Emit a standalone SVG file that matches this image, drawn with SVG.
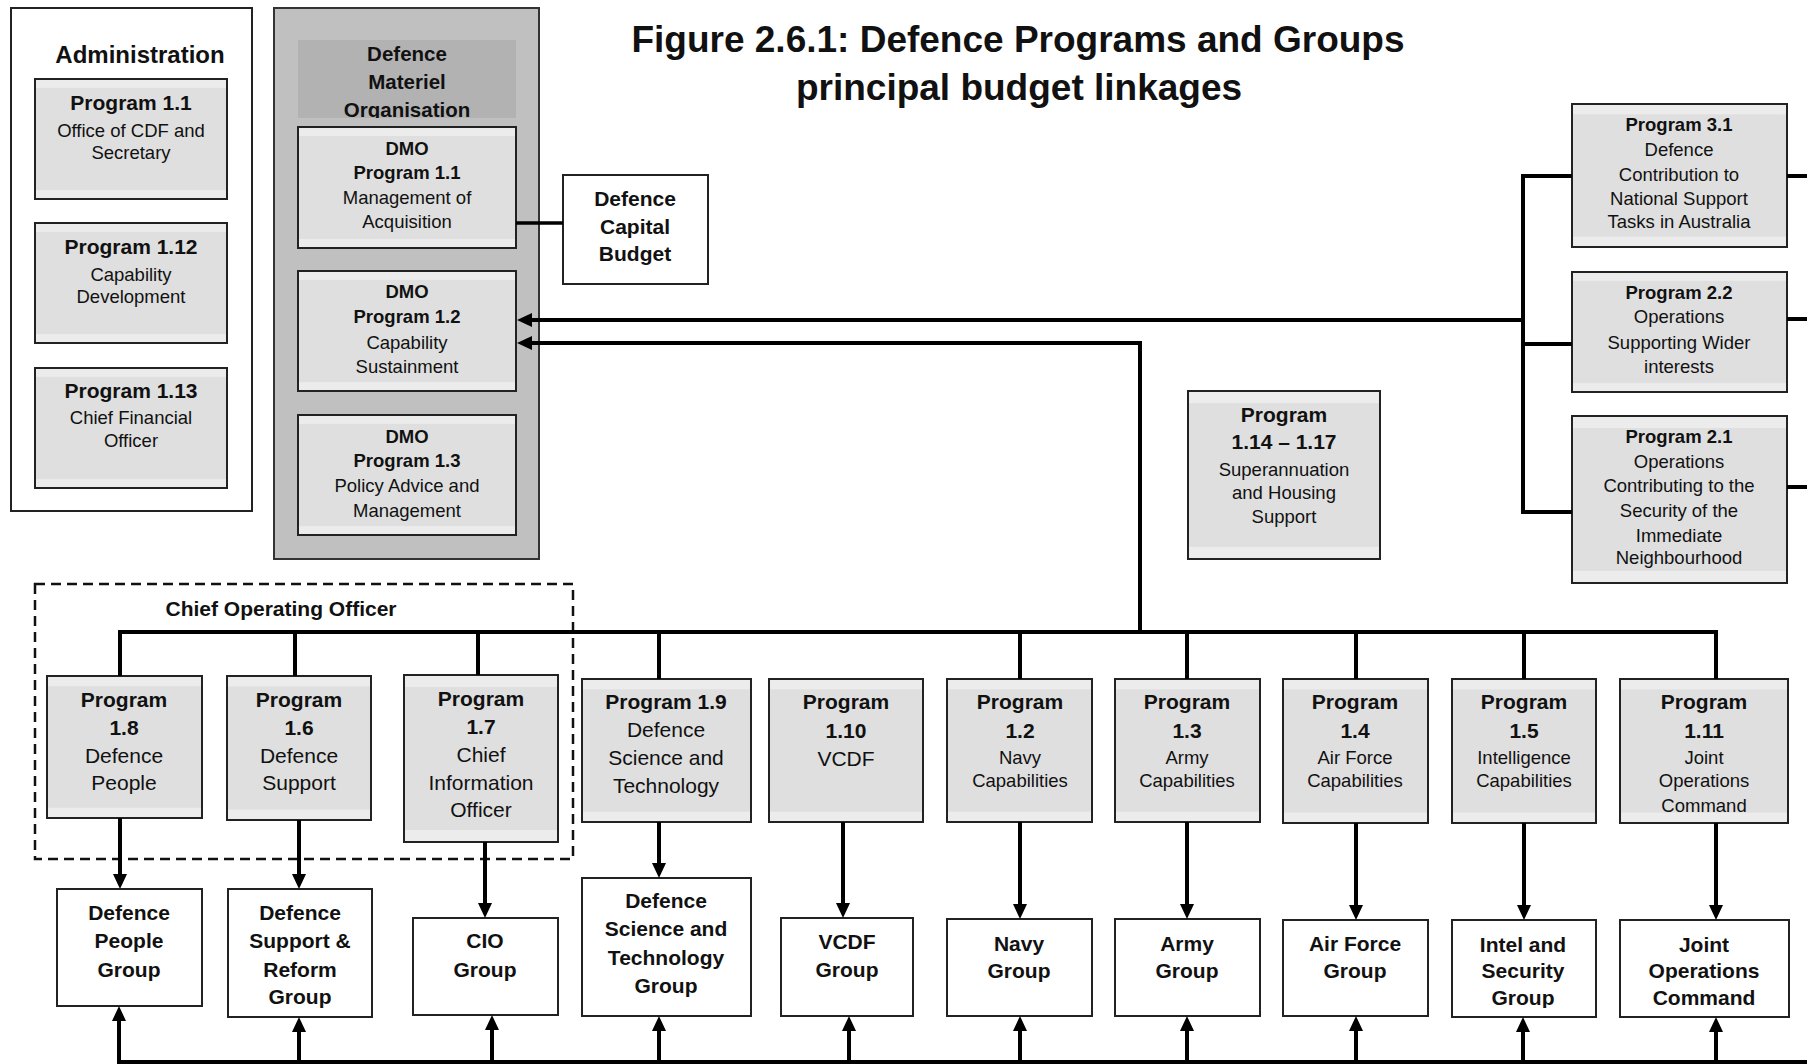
<svg xmlns="http://www.w3.org/2000/svg" width="1807" height="1064" viewBox="0 0 1807 1064">
  <style>
    text { font-family: "Liberation Sans", Arial, sans-serif; fill: #111; text-anchor: middle; }
    .title { font-size: 37px; font-weight: bold; }
    .h24 { font-size: 24px; font-weight: bold; }
    .b21 { font-size: 21px; font-weight: bold; }
    .b20 { font-size: 20.5px; font-weight: bold; }
    .b18 { font-size: 18.5px; font-weight: bold; }
    .r21 { font-size: 21px; }
    .r18 { font-size: 18.5px; }
    .frame { fill: #fff; stroke: #222; stroke-width: 2; }
    .prog { fill: url(#progFill); stroke: #222; stroke-width: 2; }
    .dmo { fill: #c0c0c0; stroke: #333; stroke-width: 2; }
    .band { fill: #b2b2b2; }
    .group { fill: #fff; stroke: #222; stroke-width: 2; }
    .coo { fill: none; stroke: #111; stroke-width: 2.5; stroke-dasharray: 10 6; }
    .wire { fill: none; stroke: #000; stroke-width: 4; stroke-linejoin: miter; }
    .thin { fill: none; stroke: #000; stroke-width: 3.5; }
    .arrow { fill: none; stroke: #000; stroke-width: 4; marker-end: url(#head); }
  </style>
  <defs>
    <linearGradient id="progFill" x1="0" y1="0" x2="0" y2="1">
      <stop offset="0" stop-color="#ececec"/>
      <stop offset="0.07" stop-color="#ececec"/>
      <stop offset="0.075" stop-color="#dfdfdf"/>
      <stop offset="0.925" stop-color="#dfdfdf"/>
      <stop offset="0.93" stop-color="#ececec"/>
      <stop offset="1" stop-color="#ececec"/>
    </linearGradient>
    <marker id="head" viewBox="0 0 15 14" refX="3" refY="7" markerWidth="15" markerHeight="14" markerUnits="userSpaceOnUse" orient="auto">
      <path d="M0,0 L15,7 L0,14 z" fill="#000"/>
    </marker>
    <clipPath id="bandClip"><rect x="298" y="40" width="218" height="78"/></clipPath>
    <clipPath id="lowClip"><rect x="0" y="0" width="1807" height="1008"/></clipPath>
  </defs>

  <rect x="0" y="0" width="1807" height="1064" fill="#fff"/>

  <!-- heading -->
  <g id="heading">
    <text class="title" x="1018" y="52">Figure 2.6.1: Defence Programs and Groups</text>
    <text class="title" x="1019" y="100">principal budget linkages</text>
  </g>

  <!-- Administration -->
  <g id="administration">
    <rect class="frame" x="11" y="8" width="241" height="503"/>
    <text class="h24" x="140" y="63">Administration</text>
  </g>
  <g id="admin-1-1">
    <rect class="prog" x="35" y="79" width="192" height="120"/>
    <text class="b21" x="131" y="110">Program 1.1</text>
    <text class="r18" x="131" y="137">Office of CDF and</text>
    <text class="r18" x="131" y="159">Secretary</text>
  </g>
  <g id="admin-1-12">
    <rect class="prog" x="35" y="223" width="192" height="120"/>
    <text class="b21" x="131" y="254">Program 1.12</text>
    <text class="r18" x="131" y="281">Capability</text>
    <text class="r18" x="131" y="303">Development</text>
  </g>
  <g id="admin-1-13">
    <rect class="prog" x="35" y="368" width="192" height="120"/>
    <text class="b21" x="131" y="398">Program 1.13</text>
    <text class="r18" x="131" y="424">Chief Financial</text>
    <text class="r18" x="131" y="447">Officer</text>
  </g>

  <!-- Defence Materiel Organisation -->
  <g id="dmo">
    <rect class="dmo" x="274" y="8" width="265" height="551"/>
    <rect class="band" x="298" y="40" width="218" height="78"/>
    <g clip-path="url(#bandClip)">
      <text class="b20" x="407" y="61">Defence</text>
      <text class="b20" x="407" y="89">Materiel</text>
      <text class="b20" x="407" y="117">Organisation</text>
    </g>
  </g>
  <g id="dmo-1-1">
    <rect class="prog" x="298" y="127" width="218" height="121"/>
    <text class="b18" x="407" y="155">DMO</text>
    <text class="b18" x="407" y="179">Program 1.1</text>
    <text class="r18" x="407" y="204">Management of</text>
    <text class="r18" x="407" y="228">Acquisition</text>
  </g>
  <g id="dmo-1-2">
    <rect class="prog" x="298" y="271" width="218" height="120"/>
    <text class="b18" x="407" y="298">DMO</text>
    <text class="b18" x="407" y="323">Program 1.2</text>
    <text class="r18" x="407" y="349">Capability</text>
    <text class="r18" x="407" y="373">Sustainment</text>
  </g>
  <g id="dmo-1-3">
    <rect class="prog" x="298" y="415" width="218" height="120"/>
    <text class="b18" x="407" y="443">DMO</text>
    <text class="b18" x="407" y="467">Program 1.3</text>
    <text class="r18" x="407" y="492">Policy Advice and</text>
    <text class="r18" x="407" y="517">Management</text>
  </g>

  <g id="capital-budget">
    <rect class="group" x="563" y="175" width="145" height="109"/>
    <text class="b21" x="635" y="206">Defence</text>
    <text class="b21" x="635" y="234">Capital</text>
    <text class="b21" x="635" y="261">Budget</text>
  </g>

  <g id="program-1-14-1-17">
    <rect class="prog" x="1188" y="391" width="192" height="168"/>
    <text class="b21" x="1284" y="422">Program</text>
    <text class="b21" x="1284" y="449">1.14 – 1.17</text>
    <text class="r18" x="1284" y="476">Superannuation</text>
    <text class="r18" x="1284" y="499">and Housing</text>
    <text class="r18" x="1284" y="523">Support</text>
  </g>

  <!-- Outcome 2 and 3 programs -->
  <g id="program-3-1">
    <rect class="prog" x="1572" y="104" width="215" height="143"/>
    <text class="b18" x="1679" y="131">Program 3.1</text>
    <text class="r18" x="1679" y="156">Defence</text>
    <text class="r18" x="1679" y="181">Contribution to</text>
    <text class="r18" x="1679" y="205">National Support</text>
    <text class="r18" x="1679" y="228">Tasks in Australia</text>
  </g>
  <g id="program-2-2">
    <rect class="prog" x="1572" y="272" width="215" height="120"/>
    <text class="b18" x="1679" y="299">Program 2.2</text>
    <text class="r18" x="1679" y="323">Operations</text>
    <text class="r18" x="1679" y="349">Supporting Wider</text>
    <text class="r18" x="1679" y="373">interests</text>
  </g>
  <g id="program-2-1">
    <rect class="prog" x="1572" y="416" width="215" height="167"/>
    <text class="b18" x="1679" y="443">Program 2.1</text>
    <text class="r18" x="1679" y="468">Operations</text>
    <text class="r18" x="1679" y="492">Contributing to the</text>
    <text class="r18" x="1679" y="517">Security of the</text>
    <text class="r18" x="1679" y="542">Immediate</text>
    <text class="r18" x="1679" y="564">Neighbourhood</text>
  </g>

  <!-- Chief Operating Officer grouping -->
  <g id="coo">
    <rect class="coo" x="35" y="584" width="538" height="275"/>
    <text class="b21" x="281" y="616">Chief Operating Officer</text>
  </g>

  <!-- Outcome 1 programs -->
  <g id="program-1-8">
    <rect class="prog" x="47" y="676" width="155" height="142"/>
    <text class="b21" x="124" y="707">Program</text>
    <text class="b21" x="124" y="735">1.8</text>
    <text class="r21" x="124" y="763">Defence</text>
    <text class="r21" x="124" y="790">People</text>
  </g>
  <g id="program-1-6">
    <rect class="prog" x="227" y="676" width="144" height="144"/>
    <text class="b21" x="299" y="707">Program</text>
    <text class="b21" x="299" y="735">1.6</text>
    <text class="r21" x="299" y="763">Defence</text>
    <text class="r21" x="299" y="790">Support</text>
  </g>
  <g id="program-1-7">
    <rect class="prog" x="404" y="675" width="154" height="167"/>
    <text class="b21" x="481" y="706">Program</text>
    <text class="b21" x="481" y="734">1.7</text>
    <text class="r21" x="481" y="762">Chief</text>
    <text class="r21" x="481" y="790">Information</text>
    <text class="r21" x="481" y="817">Officer</text>
  </g>
  <g id="program-1-9">
    <rect class="prog" x="582" y="679" width="169" height="143"/>
    <text class="b21" x="666" y="709">Program 1.9</text>
    <text class="r21" x="666" y="737">Defence</text>
    <text class="r21" x="666" y="765">Science and</text>
    <text class="r21" x="666" y="793">Technology</text>
  </g>
  <g id="program-1-10">
    <rect class="prog" x="769" y="679" width="154" height="143"/>
    <text class="b21" x="846" y="709">Program</text>
    <text class="b21" x="846" y="738">1.10</text>
    <text class="r21" x="846" y="766">VCDF</text>
  </g>
  <g id="program-1-2">
    <rect class="prog" x="947" y="679" width="145" height="143"/>
    <text class="b21" x="1020" y="709">Program</text>
    <text class="b21" x="1020" y="738">1.2</text>
    <text class="r18" x="1020" y="764">Navy</text>
    <text class="r18" x="1020" y="787">Capabilities</text>
  </g>
  <g id="program-1-3">
    <rect class="prog" x="1115" y="679" width="145" height="143"/>
    <text class="b21" x="1187" y="709">Program</text>
    <text class="b21" x="1187" y="738">1.3</text>
    <text class="r18" x="1187" y="764">Army</text>
    <text class="r18" x="1187" y="787">Capabilities</text>
  </g>
  <g id="program-1-4">
    <rect class="prog" x="1283" y="679" width="145" height="144"/>
    <text class="b21" x="1355" y="709">Program</text>
    <text class="b21" x="1355" y="738">1.4</text>
    <text class="r18" x="1355" y="764">Air Force</text>
    <text class="r18" x="1355" y="787">Capabilities</text>
  </g>
  <g id="program-1-5">
    <rect class="prog" x="1452" y="679" width="144" height="144"/>
    <text class="b21" x="1524" y="709">Program</text>
    <text class="b21" x="1524" y="738">1.5</text>
    <text class="r18" x="1524" y="764">Intelligence</text>
    <text class="r18" x="1524" y="787">Capabilities</text>
  </g>
  <g id="program-1-11">
    <rect class="prog" x="1620" y="679" width="168" height="144"/>
    <text class="b21" x="1704" y="709">Program</text>
    <text class="b21" x="1704" y="738">1.11</text>
    <text class="r18" x="1704" y="764">Joint</text>
    <text class="r18" x="1704" y="787">Operations</text>
    <text class="r18" x="1704" y="812">Command</text>
  </g>

  <!-- Groups -->
  <g id="defence-people-group">
    <rect class="group" x="57" y="889" width="145" height="117"/>
    <text class="b21" x="129" y="920">Defence</text>
    <text class="b21" x="129" y="948">People</text>
    <text class="b21" x="129" y="977">Group</text>
  </g>
  <g id="defence-support-reform-group">
    <rect class="group" x="228" y="889" width="144" height="128"/>
    <text class="b21" x="300" y="920">Defence</text>
    <text class="b21" x="300" y="948">Support &amp;</text>
    <text class="b21" x="300" y="977">Reform</text>
    <text class="b21" x="300" y="1004">Group</text>
  </g>
  <g id="cio-group">
    <rect class="group" x="413" y="918" width="145" height="97"/>
    <text class="b21" x="485" y="948">CIO</text>
    <text class="b21" x="485" y="977">Group</text>
  </g>
  <g id="dst-group">
    <rect class="group" x="582" y="878" width="169" height="138"/>
    <text class="b21" x="666" y="908">Defence</text>
    <text class="b21" x="666" y="936">Science and</text>
    <text class="b21" x="666" y="965">Technology</text>
    <text class="b21" x="666" y="993">Group</text>
  </g>
  <g id="vcdf-group">
    <rect class="group" x="781" y="918" width="132" height="98"/>
    <text class="b21" x="847" y="949">VCDF</text>
    <text class="b21" x="847" y="977">Group</text>
  </g>
  <g id="navy-group">
    <rect class="group" x="947" y="919" width="145" height="97"/>
    <text class="b21" x="1019" y="951">Navy</text>
    <text class="b21" x="1019" y="978">Group</text>
  </g>
  <g id="army-group">
    <rect class="group" x="1115" y="919" width="145" height="97"/>
    <text class="b21" x="1187" y="951">Army</text>
    <text class="b21" x="1187" y="978">Group</text>
  </g>
  <g id="air-force-group">
    <rect class="group" x="1283" y="920" width="145" height="96"/>
    <text class="b21" x="1355" y="951">Air Force</text>
    <text class="b21" x="1355" y="978">Group</text>
  </g>
  <g id="intel-security-group">
    <rect class="group" x="1452" y="920" width="144" height="97"/>
    <g clip-path="url(#lowClip)">
      <text class="b21" x="1523" y="952">Intel and</text>
      <text class="b21" x="1523" y="978">Security</text>
      <text class="b21" x="1523" y="1005">Group</text>
    </g>
  </g>
  <g id="joint-operations-command">
    <rect class="group" x="1620" y="920" width="169" height="97"/>
    <g clip-path="url(#lowClip)">
      <text class="b21" x="1704" y="952">Joint</text>
      <text class="b21" x="1704" y="978">Operations</text>
      <text class="b21" x="1704" y="1005">Command</text>
    </g>
  </g>

  <!-- connectors, drawn over the containers they cross -->
  <g id="connectors">
    <line class="thin" x1="516" y1="223" x2="563" y2="223"/>
    <path class="arrow" d="M1525,320 H529"/>
    <path class="arrow" d="M1140,634 V343 H529"/>
    <!-- right-hand trunk to Programs 3.1, 2.2, 2.1 -->
    <path class="wire" d="M1572,176 H1523 V512 H1572"/>
    <line class="wire" x1="1523" y1="344" x2="1572" y2="344"/>
    <line class="wire" x1="1787" y1="176" x2="1807" y2="176"/>
    <line class="wire" x1="1787" y1="319" x2="1807" y2="319"/>
    <line class="wire" x1="1787" y1="487" x2="1807" y2="487"/>
    <!-- upper bus and drops to programs -->
    <path class="wire" d="M120,676 V632 H1716 V679"/>
    <line class="wire" x1="295" y1="632" x2="295" y2="676"/>
    <line class="wire" x1="478" y1="632" x2="478" y2="675"/>
    <line class="wire" x1="659" y1="632" x2="659" y2="679"/>
    <line class="wire" x1="1020" y1="632" x2="1020" y2="679"/>
    <line class="wire" x1="1187" y1="632" x2="1187" y2="679"/>
    <line class="wire" x1="1356" y1="632" x2="1356" y2="679"/>
    <line class="wire" x1="1524" y1="632" x2="1524" y2="679"/>
    <!-- programs down to groups -->
    <path class="arrow" d="M120,818 V877"/>
    <path class="arrow" d="M299,820 V877"/>
    <path class="arrow" d="M485,842 V906"/>
    <path class="arrow" d="M659,822 V866"/>
    <path class="arrow" d="M843,822 V906"/>
    <path class="arrow" d="M1020,822 V907"/>
    <path class="arrow" d="M1187,822 V907"/>
    <path class="arrow" d="M1356,823 V908"/>
    <path class="arrow" d="M1524,823 V908"/>
    <path class="arrow" d="M1716,823 V908"/>
    <!-- lower bus and feeds up into groups -->
    <line class="wire" x1="117" y1="1062" x2="1807" y2="1062"/>
    <path class="arrow" d="M119,1062 V1018"/>
    <path class="arrow" d="M299,1062 V1029"/>
    <path class="arrow" d="M492,1062 V1027"/>
    <path class="arrow" d="M659,1062 V1028"/>
    <path class="arrow" d="M849,1062 V1028"/>
    <path class="arrow" d="M1020,1062 V1028"/>
    <path class="arrow" d="M1187,1062 V1028"/>
    <path class="arrow" d="M1356,1062 V1028"/>
    <path class="arrow" d="M1523,1062 V1029"/>
    <path class="arrow" d="M1716,1062 V1029"/>
  </g>
</svg>
